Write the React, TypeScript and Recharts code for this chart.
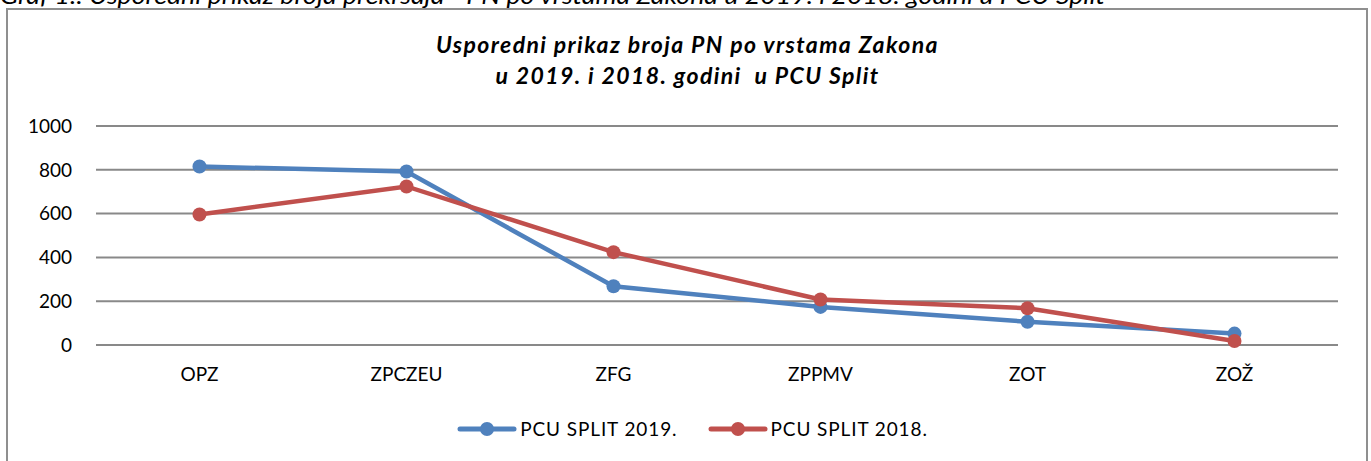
import React from "react";
import { CartesianGrid, Legend, Line, LineChart, XAxis, YAxis } from "recharts";

const categories = ["OPZ", "ZPCZEU", "ZFG", "ZPPMV", "ZOT", "ZOŽ"];
const split2019 = [815, 792, 268, 174, 106, 52];
const split2018 = [596, 724, 424, 208, 168, 18];
const yTicks = [0, 200, 400, 600, 800, 1000];

const seriesNames = ["PCU SPLIT 2019.", "PCU SPLIT 2018."];
const seriesColors = ["#4F81BD", "#C0504D"];

const data = categories.map((name, i) => ({
  name,
  s2019: split2019[i],
  s2018: split2018[i],
}));

const FONT = "Lato, 'Open Sans', sans-serif";
const CAPTION = "Graf 1.: Usporedni prikaz broja prekršaja - PN po vrstama Zakona u 2019. i 2018. godini u PCU Split";

function LegendContent() {
  return (
    <div style={{ display: "flex", justifyContent: "center", alignItems: "center", fontFamily: FONT, fontSize: 19, letterSpacing: 0.9, color: "#000" }}>
      {seriesNames.map((n, i) => (
        <div key={n} style={{ display: "flex", alignItems: "center", marginRight: i === 0 ? 30 : 0 }}>
          <svg width={60} height={18} style={{ marginRight: 3 }}>
            <line x1={3} y1={9} x2={57} y2={9} stroke={seriesColors[i]} strokeWidth={5} strokeLinecap="round" />
            <circle cx={30} cy={9} r={7} fill={seriesColors[i]} />
          </svg>
          <span>{n}</span>
        </div>
      ))}
    </div>
  );
}

export default function App() {
  return (
    <div style={{ position: "fixed", left: 0, top: 0, width: 1371, height: 461, overflow: "hidden", background: "#fff" }}>
      <div
        style={{
          position: "absolute",
          left: 7,
          top: 29,
          width: 1361,
          textAlign: "center",
          fontFamily: FONT,
          fontStyle: "italic",
          fontWeight: 700,
          fontSize: 23,
          letterSpacing: 1.4,
          lineHeight: "31px",
          color: "#000",
        }}
      >
        <div>Usporedni prikaz broja PN po vrstama Zakona</div>
        <div>u 2019. i 2018. godini&nbsp; u PCU Split</div>
      </div>
      <div style={{ position: "absolute", left: 0, top: 0 }}>
        <LineChart width={1371} height={461} data={data} margin={{ top: 126, right: 33, left: 0, bottom: 76 }}>
          <CartesianGrid vertical={false} stroke="#898989" strokeWidth={2} />
          <XAxis
            dataKey="name"
            axisLine={false}
            tickLine={false}
            tickSize={0}
            tickMargin={23}
            height={40}
            padding={{ left: 103.5, right: 103.5 }}
            tick={{ fill: "#000", fontSize: 19, fontFamily: FONT }}
            interval={0}
          />
          <YAxis
            domain={[0, 1000]}
            ticks={yTicks}
            axisLine={false}
            tickLine={false}
            tickSize={0}
            tickMargin={24}
            width={96}
            tick={{ fill: "#000", fontSize: 19, fontFamily: FONT }}
          />
          <Legend
            layout="horizontal"
            align="center"
            verticalAlign="middle"
            content={<LegendContent />}
            wrapperStyle={{ left: 7, top: 417, width: 1371 }}
          />
          <Line
            type="linear"
            dataKey="s2019"
            name={seriesNames[0]}
            stroke={seriesColors[0]}
            strokeWidth={4.5}
            dot={{ r: 7, fill: seriesColors[0], stroke: "none" }}
            activeDot={false}
            isAnimationActive={false}
          />
          <Line
            type="linear"
            dataKey="s2018"
            name={seriesNames[1]}
            stroke={seriesColors[1]}
            strokeWidth={4.5}
            dot={{ r: 7, fill: seriesColors[1], stroke: "none" }}
            activeDot={false}
            isAnimationActive={false}
          />
        </LineChart>
      </div>
      <svg
        width={1371}
        height={461}
        style={{ position: "absolute", left: 0, top: 0, pointerEvents: "none" }}
      >
        <text
          x={0}
          y={4}
          fontFamily={FONT}
          fontStyle="italic"
          fontSize={24}
          textLength={1105}
          lengthAdjust="spacingAndGlyphs"
          fill="#000"
        >
          {CAPTION}
        </text>
        <rect x={7} y={9} width={1360} height={470} fill="none" stroke="#8f8f8f" strokeWidth={2} />
      </svg>
    </div>
  );
}
